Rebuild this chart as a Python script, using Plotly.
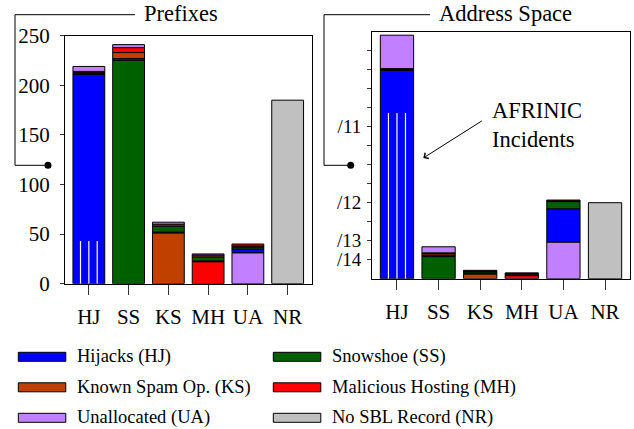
import plotly.graph_objects as go

# ---------------- data ----------------
categories = ["HJ", "SS", "KS", "MH", "UA", "NR"]
series_names = ["Hijacks (HJ)", "Snowshoe (SS)", "Known Spam Op. (KS)",
                "Malicious Hosting (MH)", "Unallocated (UA)", "No SBL Record (NR)"]
series_colors = ["#0000FF", "#006000", "#C04000", "#FF0000", "#C080FF", "#C0C0C0"]

# contribution of each series (columns HJ,SS,KS,MH,UA,NR) to each bar (rows)
prefixes = [
    [211, 1, 1, 1, 5, 0],      # HJ bar
    [2, 225, 6, 5, 3, 0],      # SS bar
    [1, 6, 51, 2, 2, 0],       # KS bar
    [1, 4, 2, 22, 1, 0],       # MH bar
    [4, 2, 1, 2, 31, 0],       # UA bar
    [0, 0, 0, 0, 0, 185],      # NR bar
]
# address space in units of 2^20 addresses (a /12)
address_space = [
    [2.74, 0.012, 0.006, 0.006, 0.44, 0],
    [0.02, 0.29, 0.02, 0.01, 0.08, 0],
    [0.01, 0.02, 0.06, 0.01, 0.01, 0],
    [0.01, 0.01, 0.01, 0.04, 0.006, 0],
    [0.44, 0.095, 0.01, 0.01, 0.48, 0],
    [0, 0, 0, 0, 0, 1.0],
]
afrinic_prefixes = 43
afrinic_space = 2.18

prefix_ticks = [0, 50, 100, 150, 200, 250]
space_labels = {14: "/14", 13: "/13", 12: "/12", 11: "/11"}

W, H = 634, 429
FONT = "Liberation Serif"


def px(x):
    return x / W


def py(y):
    return 1 - y / H


fig = go.Figure()


def add_stack(data, xa, ya):
    n = len(categories)
    for s in range(len(series_names)):
        xs, ys, bs = [], [], []
        for b in range(n):
            order = [b] + [k for k in range(5) if k != b]
            base = 0
            for k in order:
                if k == s:
                    break
                base += data[b][k]
            if data[b][s] > 0:
                xs.append(b)
                ys.append(data[b][s])
                bs.append(base)
        fig.add_trace(go.Bar(
            x=xs, y=ys, base=bs, width=0.8, xaxis=xa, yaxis=ya,
            marker=dict(color=series_colors[s], line=dict(color="black", width=1)),
            showlegend=False, hoverinfo="skip"))


def add_afrinic(value, xa, ya, d=0.21):
    xs, ys = [], []
    for off in (-d, 0, d):
        xs += [off, off, None]
        ys += [0, value, None]
    fig.add_trace(go.Scatter(x=xs, y=ys, mode="lines", xaxis=xa, yaxis=ya,
                             line=dict(color="white", width=1.2),
                             showlegend=False, hoverinfo="skip"))


add_stack(prefixes, "x", "y")
add_afrinic(afrinic_prefixes, "x", "y")
add_stack(address_space, "x2", "y2")
add_afrinic(afrinic_space, "x2", "y2", d=0.205)

tickfont = dict(family=FONT, size=21, color="black")
xcommon = dict(range=[-0.6, 5.6], tickvals=list(range(len(categories))), ticktext=categories,
               ticks="outside", ticklen=10, tickcolor="#333", tickwidth=1,
               showline=True, mirror=True, linecolor="black", linewidth=1, automargin=False,
               showgrid=False, zeroline=False, tickfont=tickfont, ticklabelstandoff=4)

space_tickvals = [0.25 * k for k in range(1, 13)]
space_ticktext = []
for v in space_tickvals:
    lab = ""
    for p, t in space_labels.items():
        if abs(2 ** (12 - p) - v) < 1e-9:
            lab = t
    space_ticktext.append(lab)

fig.update_layout(
    width=W, height=H, autosize=False,
    margin=dict(l=0, r=0, t=0, b=0, pad=0, autoexpand=False),
    showlegend=False,
    paper_bgcolor="white", plot_bgcolor="white",
    barmode="overlay",
    xaxis=dict(domain=[px(65), px(311.5)], anchor="y", **xcommon),
    yaxis=dict(domain=[py(283.7), py(35.7)], anchor="x", range=[0, 250],
               tickvals=prefix_ticks, ticks="outside", ticklen=4, tickcolor="#333",
               showline=True, mirror=True, linecolor="black", linewidth=1, automargin=False,
               showgrid=False, zeroline=False, tickfont=tickfont, ticklabelstandoff=6),
    xaxis2=dict(domain=[px(372), px(630)], anchor="y2", **xcommon),
    yaxis2=dict(domain=[py(278.7), py(31.7)], anchor="x2", range=[0, 3.25],
                tickvals=space_tickvals, ticktext=space_ticktext,
                ticks="outside", ticklen=4, tickcolor="#333", automargin=False,
                showline=True, mirror=True, linecolor="black", linewidth=1,
                showgrid=False, zeroline=False, tickfont=dict(family=FONT, size=19, color="black"),
                ticklabelstandoff=2),
)

shapes = []
annotations = []


def line(x0, y0, x1, y1):
    shapes.append(dict(type="line", xref="paper", yref="paper",
                       x0=px(x0), y0=py(y0), x1=px(x1), y1=py(y1),
                       line=dict(color="black", width=1)))


def dot(cx, cy, r=3.5):
    shapes.append(dict(type="circle", xref="paper", yref="paper",
                       x0=px(cx - r), x1=px(cx + r), y0=py(cy + r), y1=py(cy - r),
                       fillcolor="black", line=dict(color="black", width=0)))


# title brackets
line(135, 14.7, 15, 14.7); line(15, 14.7, 15, 165.3); line(15, 165.3, 47, 165.3); dot(48, 165.3)
line(430, 14.7, 324, 14.7); line(324, 14.7, 324, 165.3); line(324, 165.3, 350, 165.3); dot(350.7, 165.3)

annotations.append(dict(text="Prefixes", xref="paper", yref="paper", x=px(142), y=py(13.5),
                        xanchor="left", yanchor="middle", showarrow=False,
                        font=dict(family=FONT, size=22.5, color="black")))
annotations.append(dict(text="Address Space", xref="paper", yref="paper", x=px(437), y=py(13.5),
                        xanchor="left", yanchor="middle", showarrow=False,
                        font=dict(family=FONT, size=22.5, color="black")))

# AFRINIC annotation
annotations.append(dict(text="AFRINIC<br>Incidents", xref="paper", yref="paper",
                        x=px(490), y=py(125), xanchor="left", yanchor="middle", align="left",
                        showarrow=False, font=dict(family=FONT, size=22.5, color="black")))
annotations.append(dict(text="", xref="paper", yref="paper", x=px(423.3), y=py(158),
                        ax=60, ay=-38, showarrow=True, arrowhead=4, arrowsize=1.3,
                        arrowwidth=1, arrowcolor="black"))

# legend (custom, wide swatches)
for i, (name, col) in enumerate(zip(series_names, series_colors)):
    r, c = divmod(i, 2)
    x0 = 18.3 + c * 255
    y0 = 352.3 + r * 30.5
    shapes.append(dict(type="rect", xref="paper", yref="paper",
                       x0=px(x0), x1=px(x0 + 47.5), y0=py(y0 + 9), y1=py(y0),
                       fillcolor=col, line=dict(color="black", width=1)))
    annotations.append(dict(text=name, xref="paper", yref="paper",
                            x=px(x0 + 56.7), y=py(y0 + 4.5), xanchor="left", yanchor="middle",
                            showarrow=False, font=dict(family=FONT, size=18.5, color="black")))

fig.update_layout(shapes=shapes, annotations=annotations)

fig.write_html("out.html", config={"displayModeBar": False},
               post_script="document.body.style.margin='0';")
